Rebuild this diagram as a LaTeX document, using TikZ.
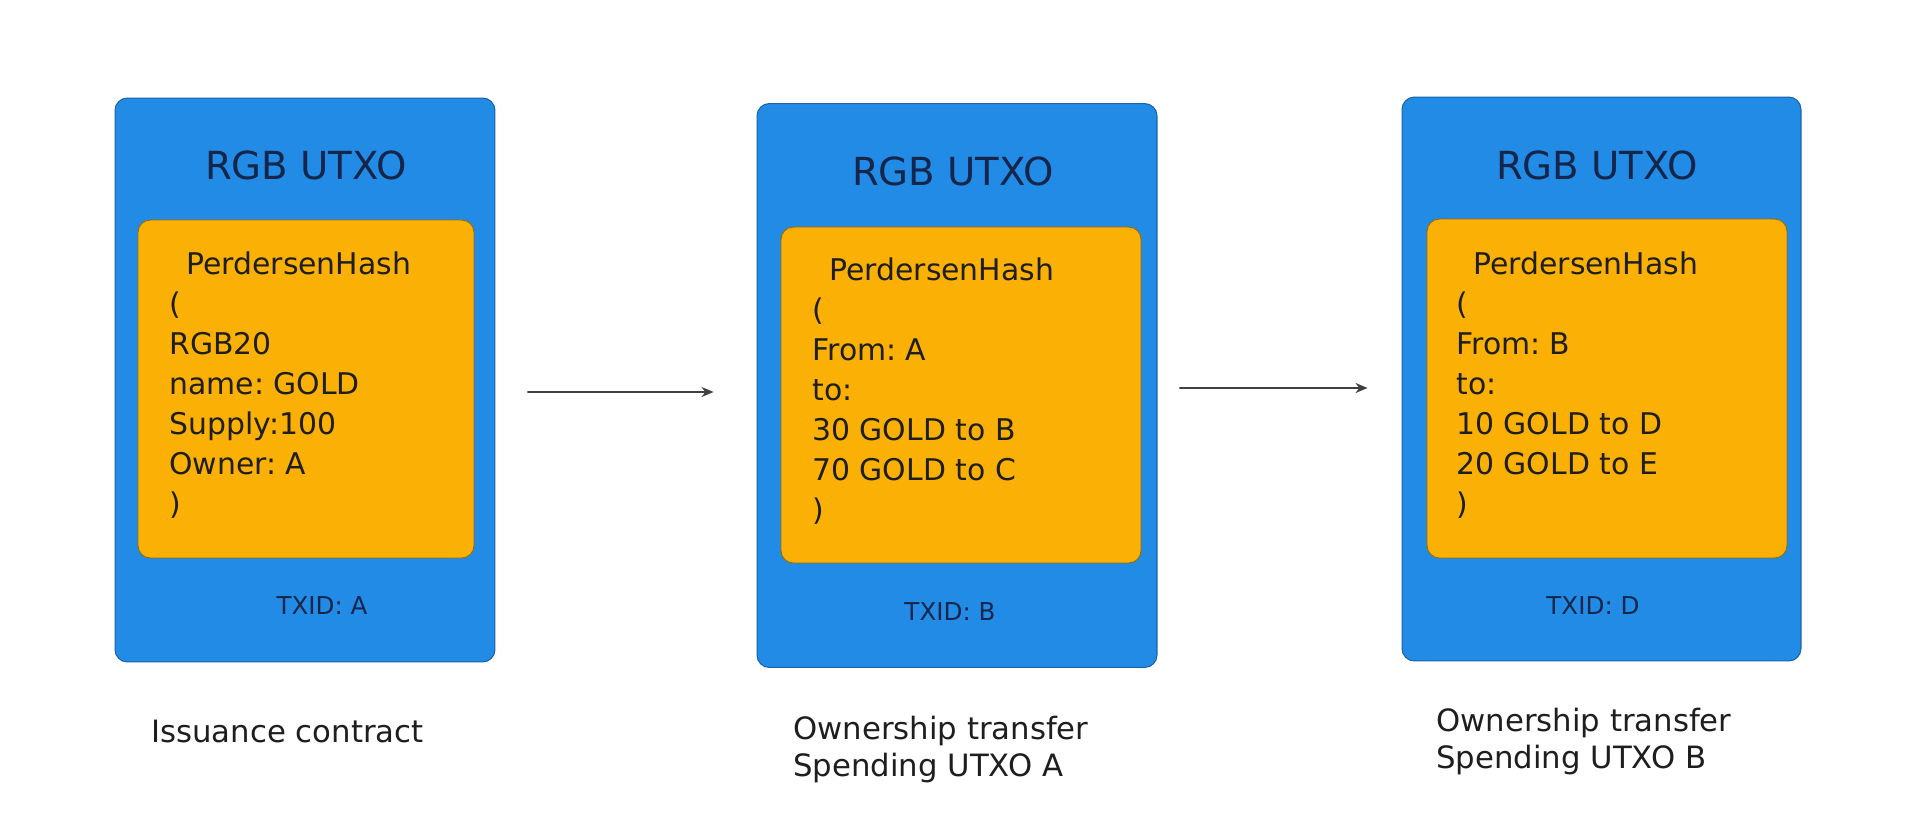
\documentclass[tikz,border=0pt]{standalone}
\usepackage{fontspec}
\setmainfont{DejaVu Sans}
\usetikzlibrary{positioning,arrows.meta}
\definecolor{utxoblue}{HTML}{228BE6}
\definecolor{utxoedge}{HTML}{1864AB}
\definecolor{hashfill}{HTML}{FAB005}
\definecolor{hashedge}{HTML}{9C6B00}
\definecolor{ink}{HTML}{1E1E1E}
\definecolor{navyink}{HTML}{15264A}
\frenchspacing

\begin{document}
\begin{tikzpicture}[x=0.02cm, y=-0.02cm,
  utxo/.style={draw=utxoedge, fill=utxoblue, line width=0.6pt, rounded corners=7pt,
              minimum width=#1, minimum height=11.28cm, inner sep=0pt},
  hash/.style={draw=hashedge, fill=hashfill, line width=0.5pt, rounded corners=7pt,
              minimum width=#1, inner sep=0pt},
  title/.style={text=navyink, font=\fontsize{22pt}{26pt}\selectfont},
  code/.style={text=ink, anchor=north west, align=left, inner sep=0pt,
              font=\fontsize{17pt}{0.8cm}\selectfont},
  txid/.style={text=navyink, font=\fontsize{14pt}{17pt}\selectfont},
  caption/.style={text=ink, anchor=west, align=left, inner sep=0pt,
              font=\fontsize{17.5pt}{0.74cm}\selectfont},
  arr/.style={-{Stealth[length=0.24cm,width=0.2cm]}, line width=1pt, color=ink!85}
]
\fill[white] (0,0) rectangle (1920,822);
\useasboundingbox (0,0) rectangle (1920,822);
% issuance
\node[utxo=7.6cm] (utxoA) at (305,380) {};
\node[hash=6.72cm, minimum height=6.76cm] (hashA) at (306,389) {};
\node[title] (titleA) at (306,165) {RGB UTXO};
\node[code] (codeA) at (169,251) {\hspace*{0.34cm}PerdersenHash\\(\\RGB20\\name: GOLD\\Supply:100\\Owner: A\\)};
\node[txid] (txidA) at (322,606) {TXID: A};
\node[caption] (capA) at (151,731) {Issuance contract};
% first transfer
\node[utxo=8cm] (utxoB) at (957,385.5) {};
\node[hash=7.2cm, minimum height=6.72cm] (hashB) at (961,395) {};
\node[title] (titleB) at (953,171) {RGB UTXO};
\node[code] (codeB) at (812,257) {\hspace*{0.34cm}PerdersenHash\\(\\From: A\\to:\\30 GOLD to B\\70 GOLD to C\\)};
\node[txid] (txidB) at (950,612) {TXID: B};
\node[caption] (capB) at (793,749.5) {Ownership transfer\\Spending UTXO A};
% second transfer
\node[utxo=7.98cm] (utxoC) at (1601.5,379) {};
\node[hash=7.2cm, minimum height=6.78cm] (hashC) at (1607,388.5) {};
\node[title] (titleC) at (1597,165) {RGB UTXO};
\node[code] (codeC) at (1456,251) {\hspace*{0.34cm}PerdersenHash\\(\\From: B\\to:\\10 GOLD to D\\20 GOLD to E\\)};
\node[txid] (txidC) at (1593,606) {TXID: D};
\node[caption] (capC) at (1436,742) {Ownership transfer\\Spending UTXO B};
\draw[arr] ([xshift=0.64cm,yshift=-0.24cm]utxoA.east) -- ([xshift=-0.86cm,yshift=-0.13cm]utxoB.west);
\draw[arr] ([xshift=0.44cm,yshift=-0.05cm]utxoB.east) -- ([xshift=-0.68cm,yshift=-0.18cm]utxoC.west);
\end{tikzpicture}
\end{document}
